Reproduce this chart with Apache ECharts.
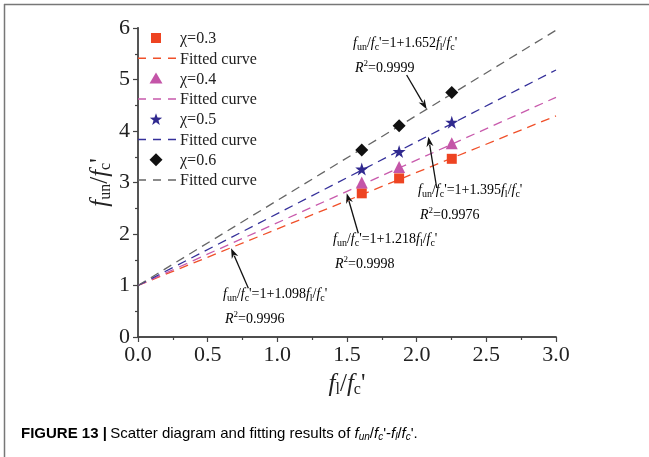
<!DOCTYPE html>
<html><head><meta charset="utf-8">
<script src="https://cdn.jsdelivr.net/npm/echarts@6/dist/echarts.min.js"></script>
<style>html,body{margin:0;padding:0;background:#fff}#c{width:649px;height:457px}</style>
</head><body><div id="c"></div>
<script>
// ---- data ----
const fl = [1.606, 1.874, 2.252];
const chi03 = [2.79, 3.08, 3.46];
const chi04 = [3.00, 3.30, 3.76];
const chi05 = [3.26, 3.60, 4.17];
const chi06 = [3.63, 4.10, 4.75];
const fitX = [0, 3];
const fit03 = [1, 4.294];
const fit04 = [1, 4.654];
const fit05 = [1, 5.185];
const fit06 = [1, 5.956];
const chiNames = ['χ=0.3', 'χ=0.4', 'χ=0.5', 'χ=0.6'];
const fitName = 'Fitted curve';
const slopes = ['1.098', '1.218', '1.395', '1.652'];
const r2 = ['0.9996', '0.9998', '0.9976', '0.9999'];
// annotation anchors in data coords: text [x,y], arrow from, arrow to
const annText = [[0.610, 0.777], [1.400, 1.845], [2.010, 2.796], [1.543, 5.65]];
const annFrom = [[0.792, 0.946], [1.581, 2.014], [2.144, 2.893], [1.928, 5.087]];
const annTo = [[0.668, 1.722], [1.498, 2.790], [2.084, 3.889], [2.072, 4.421]];

const colors = ['#ee4422', '#c455a8', '#30298f', '#111111'];
const lineColors = ['#f0502a', '#c85aac', '#35309a', '#666666'];
const starPath = 'path://M50,0 L61.8,35.1 L98.9,35.1 L68.8,56.8 L80.3,91.9 L50,70.2 L19.7,91.9 L31.2,56.8 L1.1,35.1 L38.2,35.1 Z';
const symbols = ['rect', 'triangle', starPath, 'diamond'];
const symSizes = [10, 12, 13, 13];
const chiData = [chi03, chi04, chi05, chi06];
const fitData = [fit03, fit04, fit05, fit06];

const serif = 'Liberation Serif';
const chart = echarts.init(document.getElementById('c'));

const series = [];
for (let k = 0; k < 4; k++) {
  series.push({
    name: chiNames[k], type: 'scatter', symbol: symbols[k], symbolSize: symSizes[k],
    itemStyle: {color: colors[k], opacity: 1},
    data: fl.map((x, i) => [x, chiData[k][i]]), z: 5
  });
  series.push({
    name: fitName + k, type: 'line', symbol: 'none', silent: true,
    lineStyle: {color: lineColors[k], width: 1.3, type: [9, 6]},
    data: fitX.map((x, i) => [x, fitData[k][i]]), z: 3
  });
}

const rich = {
  i: {fontFamily: serif, fontStyle: 'italic', fontSize: 14, color: '#222', lineHeight: 18, verticalAlign: 'middle'},
  n: {fontFamily: serif, fontSize: 14, color: '#222', lineHeight: 18, verticalAlign: 'middle'},
  s: {fontFamily: serif, fontSize: 10, color: '#222', lineHeight: 10, verticalAlign: 'bottom'},
  p: {fontFamily: serif, fontSize: 9, color: '#222', lineHeight: 9, verticalAlign: 'top'}
};
const axisRich = {
  i: {fontFamily: serif, fontStyle: 'italic', fontSize: 25, color: '#222', lineHeight: 28, verticalAlign: 'middle'},
  n: {fontFamily: serif, fontSize: 25, color: '#222', lineHeight: 28, verticalAlign: 'middle'},
  s: {fontFamily: serif, fontSize: 16, color: '#222', lineHeight: 16, verticalAlign: 'bottom'}
};

const axisLine = {lineStyle: {color: '#444', width: 1.5}};
const option = {
  animation: false,
  grid: {left: 138, right: 93, top: 28, bottom: 120},
  xAxis: [{
    type: 'value', min: 0, max: 3, interval: 0.5,
    name: '{i|f}{s|l}{n|/}{i|f}{s|c}{n|\'}', nameLocation: 'middle', nameGap: 33,
    nameTextStyle: {rich: axisRich},
    axisLine: axisLine,
    axisTick: {inside: false, length: 5, lineStyle: {color: '#444', width: 1.2}},
    minorTick: {show: true, splitNumber: 2, length: 3, lineStyle: {color: '#444', width: 1.2}},
    splitLine: {show: false},
    axisLabel: {fontFamily: serif, fontSize: 22, color: '#222', margin: 7, formatter: v => v.toFixed(1)}
  }, {
    type: 'value', min: 0, max: 3, position: 'top',
    axisLine: {show: true, lineStyle: {color: '#444', width: 1.5}},
    axisTick: {show: false}, axisLabel: {show: false}, splitLine: {show: false}
  }],
  yAxis: [{
    type: 'value', min: 0, max: 6, interval: 1,
    name: '{i|f}{s|un}{n|/}{i|f}{s|c}{n|\'}', nameLocation: 'middle', nameGap: 24, nameRotate: 90,
    nameMoveOverlap: false,
    nameTextStyle: {rich: axisRich},
    axisLine: axisLine,
    axisTick: {inside: false, length: 5, lineStyle: {color: '#444', width: 1.2}},
    minorTick: {show: true, splitNumber: 2, length: 3, lineStyle: {color: '#444', width: 1.2}},
    splitLine: {show: false},
    axisLabel: {fontFamily: serif, fontSize: 22, color: '#222', margin: 8}
  }, {
    type: 'value', min: 0, max: 6, position: 'right',
    axisLine: {show: true, lineStyle: {color: '#555', width: 2}},
    axisTick: {show: false}, axisLabel: {show: false}, splitLine: {show: false}
  }],
  series: series
};
chart.setOption(option);

const graphics = [];
// legend (drawn by hand so each entry looks like the reference)
const legTop = 38, legStep = 20.3, symX = 156, textX = 180;
function starPts(cx, cy, R, r) {
  const p = [];
  for (let j = 0; j < 10; j++) {
    const ang = -Math.PI / 2 + j * Math.PI / 5, rad = j % 2 ? r : R;
    p.push([cx + rad * Math.cos(ang), cy + rad * Math.sin(ang)]);
  }
  return p;
}
for (let k = 0; k < 4; k++) {
  const y1 = legTop + legStep * 2 * k, y2 = y1 + legStep;
  let sym;
  if (k === 0) sym = {type: 'rect', shape: {x: symX - 5, y: y1 - 5, width: 10, height: 10}};
  else if (k === 1) sym = {type: 'polygon', shape: {points: [[symX, y1 - 6], [symX + 6.5, y1 + 5], [symX - 6.5, y1 + 5]]}};
  else if (k === 2) sym = {type: 'polygon', shape: {points: starPts(symX, y1 + 0.5, 6.5, 2.6)}};
  else sym = {type: 'polygon', shape: {points: [[symX, y1 - 6.5], [symX + 6.5, y1], [symX, y1 + 6.5], [symX - 6.5, y1]]}};
  sym.style = {fill: colors[k]};
  sym.z = 20;
  graphics.push(sym);
  graphics.push({type: 'text', z: 20,
    style: {x: textX, y: y1 + 1, text: chiNames[k], fontFamily: serif, fontSize: 16, fill: '#222', verticalAlign: 'middle'}});
  graphics.push({type: 'line', z: 20, shape: {x1: 138, y1: y2, x2: 176, y2: y2},
    style: {stroke: lineColors[k], lineWidth: 1.5, lineDash: [8, 7]}});
  graphics.push({type: 'text', z: 20,
    style: {x: textX, y: y2 + 1, text: fitName, fontFamily: serif, fontSize: 16, fill: '#222', verticalAlign: 'middle'}});
}

// annotations, placed through the chart's own coordinate conversion
for (let k = 0; k < 4; k++) {
  const t = chart.convertToPixel({gridIndex: 0}, annText[k]);
  const a = chart.convertToPixel({gridIndex: 0}, annFrom[k]);
  const b = chart.convertToPixel({gridIndex: 0}, annTo[k]);
  graphics.push({
    type: 'text', left: t[0], top: t[1] - 10, z: 10,
    style: {
      text: '{i|f}{s|un}{n|/}{i|f}{s|c}{n|\'=1+' + slopes[k] + '}{i|f}{s|l}{n|/}{i|f}{s|c}{n|\'}',
      rich: rich
    }
  });
  graphics.push({
    type: 'text', left: t[0] + 2, top: t[1] + 13, z: 10,
    style: {text: '{i|R}{p|2}{n|=' + r2[k] + '}', rich: rich}
  });
  const dx = b[0] - a[0], dy = b[1] - a[1];
  const L = Math.sqrt(dx * dx + dy * dy), ux = dx / L, uy = dy / L;
  const hl = 10, hw = 3.5;
  const bx = b[0] - ux * hl, by = b[1] - uy * hl;
  graphics.push({
    type: 'line', z: 10,
    shape: {x1: a[0], y1: a[1], x2: bx + ux * 2, y2: by + uy * 2},
    style: {stroke: '#111', lineWidth: 1.3}
  });
  graphics.push({
    type: 'polygon', z: 10,
    shape: {points: [[b[0], b[1]], [bx - uy * hw, by + ux * hw], [bx + ux * 3, by + uy * 3], [bx + uy * hw, by - ux * hw]]},
    style: {fill: '#111'}
  });
}
// figure frame and caption
graphics.push({type: 'line', shape: {x1: 4, y1: 4.5, x2: 649, y2: 4.5}, style: {stroke: '#777', lineWidth: 1.5}});
graphics.push({type: 'line', shape: {x1: 4.5, y1: 4, x2: 4.5, y2: 457}, style: {stroke: '#777', lineWidth: 1.5}});
graphics.push({
  type: 'text', left: 21, top: 426,
  style: {
    text: '{b|FIGURE 13 |} {t|Scatter diagram and fitting results of }{i|f}{s|un}{t|/}{i|f}{s|c}{t|\'-}{i|f}{s|l}{t|/}{i|f}{s|c}{t|\'.}',
    rich: {
      b: {fontFamily: 'Liberation Sans', fontWeight: 'bold', fontSize: 15, color: '#111', lineHeight: 18, verticalAlign: 'middle'},
      t: {fontFamily: 'Liberation Sans', fontSize: 15, color: '#222', lineHeight: 18, verticalAlign: 'middle'},
      i: {fontFamily: 'Liberation Sans', fontStyle: 'italic', fontSize: 15, color: '#222', lineHeight: 18, verticalAlign: 'middle'},
      s: {fontFamily: 'Liberation Sans', fontStyle: 'italic', fontSize: 10, color: '#222', lineHeight: 10, verticalAlign: 'bottom'}
    }
  }
});
chart.setOption({graphic: graphics});
</script>
</body></html>
